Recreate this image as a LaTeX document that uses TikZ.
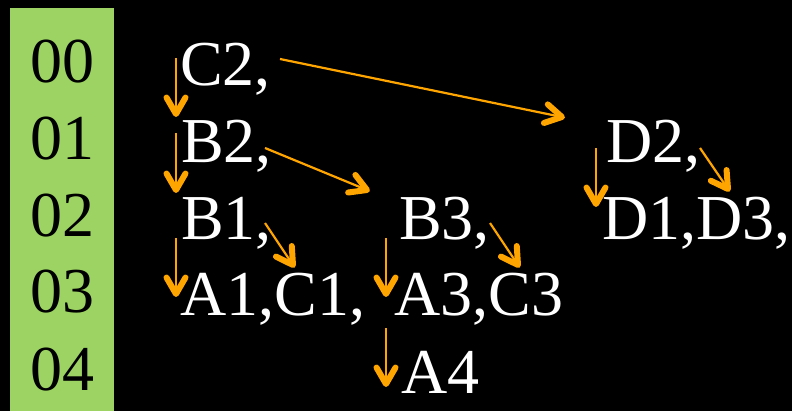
\documentclass[tikz,border=0pt]{standalone}
\usepackage{fontspec}
\setmainfont{Liberation Serif}
\usetikzlibrary{calc}
\definecolor{labgreen}{RGB}{156,211,98}
\definecolor{arrorange}{RGB}{255,165,0}
\tikzset{
  txt/.style={anchor=base west,inner sep=0pt,text=white,font=\fontsize{64}{64}\selectfont},
  lab/.style={anchor=base,inner sep=0pt,text=black,font=\fontsize{64}{64}\selectfont},
  shaft/.style={draw=arrorange,line width=2.2pt},
  barb/.style={draw=arrorange,line width=6pt,line cap=round,line join=round}
}
\newcommand{\myarrow}[2]{%
  \draw[shaft] (#1) -- (#2);
  \draw[barb] ($(#2)!19pt!30:(#1)$) -- (#2) -- ($(#2)!19pt!-30:(#1)$);
}
\begin{document}
\begin{tikzpicture}[x=1pt,y=-1pt]
\useasboundingbox (0,0) rectangle (792,411);
\fill[black] (0,0) rectangle (792,411);
\fill[labgreen] (10,8) rectangle (114,411);
% row labels
\node[lab] (r0) at (62,83) {00};
\node[lab] (r1) at (62,160) {01};
\node[lab] (r2) at (62,237) {02};
\node[lab] (r3) at (62,313) {03};
\node[lab] (r4) at (62,390) {04};
% entries
\node[txt] (C2) at (180,86) {C2,};
\node[txt] (B2) at (181,163) {B2,};
\node[txt] (B1) at (181,240) {B1,};
\node[txt] (A1C1) at (180,316) {A1,C1,};
\node[txt] (B3) at (399,240) {B3,};
\node[txt] (A3C3) at (394,316) {A3,C3};
\node[txt] (A4) at (401,393) {A4};
\node[txt] (D2) at (606,163) {D2,};
\node[txt] (D1D3) at (602,240) {D1,D3,};
% arrow end points
\coordinate (c2s) at (176,58);   \coordinate (b2e) at (176,114);
\coordinate (b2s) at (176,133);  \coordinate (b1e) at (176,190);
\coordinate (b1s) at (176,238);  \coordinate (a1e) at (176,294);
\coordinate (c2r) at (280,59);   \coordinate (d2e) at (562,117);
\coordinate (b2r) at (265,148);  \coordinate (b3e) at (367,190);
\coordinate (b1r) at (265,223);  \coordinate (c1e) at (293,265);
\coordinate (b3s) at (386,238);  \coordinate (a3e) at (386,294);
\coordinate (b3r) at (490,223);  \coordinate (c3e) at (518,265);
\coordinate (a3s) at (386,328);  \coordinate (a4e) at (386,384);
\coordinate (d2s) at (596,148);  \coordinate (d1e) at (596,204);
\coordinate (d2r) at (700,148);  \coordinate (d3e) at (728,189);
\myarrow{c2s}{b2e}
\myarrow{b2s}{b1e}
\myarrow{b1s}{a1e}
\myarrow{c2r}{d2e}
\myarrow{b2r}{b3e}
\myarrow{b1r}{c1e}
\myarrow{b3s}{a3e}
\myarrow{b3r}{c3e}
\myarrow{a3s}{a4e}
\myarrow{d2s}{d1e}
\myarrow{d2r}{d3e}
\end{tikzpicture}
\end{document}
